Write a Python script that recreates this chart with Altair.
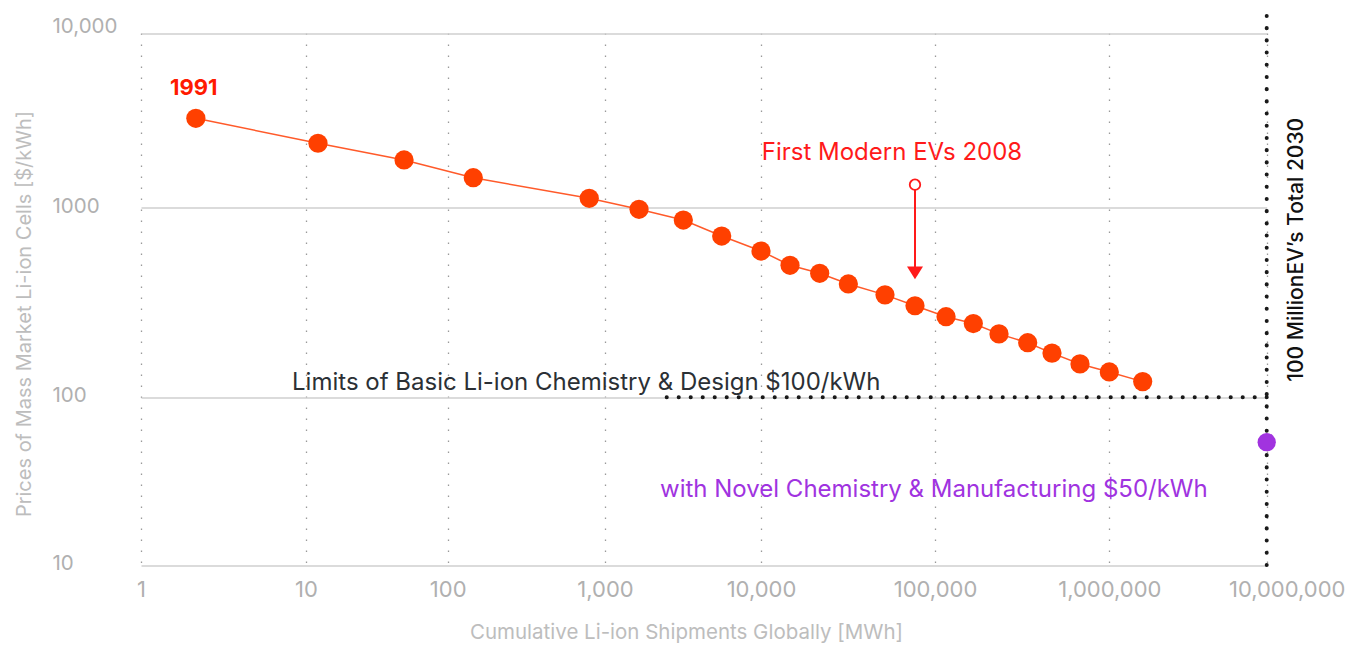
import altair as alt
import pandas as pd

# ---------------- data ----------------
shipments_mwh = [2.15, 12.15, 49.2, 145.4, 794, 1652, 3177, 5598, 10000, 14680,
                 21740, 31770, 51590, 76740, 115700, 165900, 232900, 340300,
                 469000, 679000, 1000000, 1630000]
price_kwh = [3260, 2344, 1879, 1486, 1132, 981, 861, 709, 591, 497, 451, 396,
             347, 304, 266, 245, 216, 194, 171, 150, 136, 121]

x_ticks = [1, 10, 100, 1000, 10000, 100000, 1000000, 10000000]
x_tick_labels = ["1", "10", "100", "1,000", "10,000", "100,000", "1,000,000", "10,000,000"]
y_ticks = [10, 100, 1000, 10000]
y_tick_labels = ["10", "100", "1000", "10,000"]

novel_x = [10000000]
novel_y = [54]

limit_x = [2485]
limit_x2 = [10000000]
limit_y = [100]

target_x = [10000000]
target_y = [10]
target_y2 = [12800]

ev_x = [76740]
ev_circle_y = [1355]
ev_line_end_y = [470]
ev_head_y = [453]

# text annotations: (label, x, y)
label_1991 = ("1991", 1.5, 4420)
label_ev = ("First Modern EVs 2008", 10100, 1870)
label_limit = ("Limits of Basic Li-ion Chemistry & Design $100/kWh", 8.23, 109)
label_novel = ("with Novel Chemistry & Manufacturing $50/kWh", 2253, 25.4)
label_target = ("100 MillionEV\u2019s Total 2030", 15500000, 600)

FONT = "Inter"

# ---------------- scales / axes ----------------
def lookup_expr(vals, labels):
    v = ",".join(str(a) for a in vals)
    l = ",".join("'" + s + "'" for s in labels)
    return "[" + l + "][indexof([" + v + "], datum.value)]"

x_scale = alt.Scale(type="log", domain=x_ticks,
                    range=[0, 165, 306.7, 464, 620, 794, 968.3, 1125.7], nice=False)
y_scale = alt.Scale(type="log", domain=y_ticks,
                    range=[531.5, 363.8, 174.2, 0], nice=False)

x_axis = alt.Axis(
    values=x_ticks, labelExpr=lookup_expr(x_ticks, x_tick_labels),
    title="Cumulative Li-ion Shipments Globally [MWh]",
    grid=True, gridDash=[1.5, 9.5], gridColor="#9a9a9a", gridWidth=1.3,
    domain=False, ticks=False, tickSize=0,
    labelFont=FONT, labelFontSize=22, labelColor="#b0b0b0", labelPadding=15,
    labelOffset=alt.ConditionalAxisNumber(
        condition={"test": "datum.value >= 10000000", "value": 20}, value=0),
    labelFlush=False, labelOverlap=False,
    titleFont=FONT, titleFontSize=20.5, titleFontWeight="normal", titleColor="#bdbdbd",
    titleX=545, titleY=74, titleAlign="center", titleBaseline="alphabetic",
)
y_axis = alt.Axis(
    values=y_ticks, labelExpr=lookup_expr(y_ticks, y_tick_labels),
    title="Prices of Mass Market Li-ion Cells [$/kWh]",
    grid=True, gridColor="#cfcfcf", gridWidth=1.5,
    domain=False, ticks=False, tickSize=0,
    labelFont=FONT, labelFontSize=20.5, labelColor="#b0b0b0",
    labelAlign="left", labelBaseline="middle", labelPadding=89,
    labelOffset=alt.ConditionalAxisNumber(
        condition={"test": "datum.value >= 10000", "value": -7}, value=-1.5),
    labelFlush=False, labelOverlap=False,
    titleFont=FONT, titleFontSize=20, titleFontWeight="normal", titleColor="#bdbdbd",
    titleX=-111, titleY=280, titleAngle=270, titleAlign="center", titleBaseline="alphabetic",
)

X = alt.X("x:Q", scale=x_scale, axis=x_axis)
Y = alt.Y("y:Q", scale=y_scale, axis=y_axis)

# ---------------- layers ----------------
main_df = pd.DataFrame({"x": shipments_mwh, "y": price_kwh})

line = alt.Chart(main_df).mark_line(color="#ff5a2a", strokeWidth=1.5).encode(x=X, y=Y)
points = alt.Chart(main_df).mark_circle(size=370, color="#ff4000", opacity=1).encode(x=X, y=Y)

limit_df = pd.DataFrame({"x": limit_x, "x2": limit_x2, "y": limit_y})
limit_rule = alt.Chart(limit_df).mark_rule(
    color="#1a1a1a", strokeWidth=4, strokeDash=[0.1, 11.9], strokeCap="round"
).encode(x=X, x2="x2:Q", y=Y)

target_df = pd.DataFrame({"x": target_x, "y": target_y, "y2": target_y2})
target_rule = alt.Chart(target_df).mark_rule(
    color="#1a1a1a", strokeWidth=4, strokeDash=[0.1, 12.1], strokeCap="round", clip=False
).encode(x=X, y=Y, y2="y2:Q")

novel_df = pd.DataFrame({"x": novel_x, "y": novel_y})
novel_pt = alt.Chart(novel_df).mark_circle(size=335, color="#a133df", opacity=1).encode(x=X, y=Y)

ev_line_df = pd.DataFrame({"x": ev_x, "y": ev_circle_y, "y2": ev_line_end_y})
ev_line = alt.Chart(ev_line_df).mark_rule(color="#ff1a1a", strokeWidth=2).encode(x=X, y=Y, y2="y2:Q")

ev_head_df = pd.DataFrame({"x": ev_x, "y": ev_head_y})
ev_head = alt.Chart(ev_head_df).mark_point(
    shape="M-1,-0.8L1,-0.8L0,0.8Z", size=256, filled=True, color="#ff1a1a", opacity=1
).encode(x=X, y=Y)

ev_circ_df = pd.DataFrame({"x": ev_x, "y": ev_circle_y})
ev_circ = alt.Chart(ev_circ_df).mark_point(
    shape="circle", size=110, filled=True, fill="white", stroke="#ff1a1a",
    strokeWidth=1.8, opacity=1
).encode(x=X, y=Y)


def text_layer(item, **style):
    df = pd.DataFrame({"t": [item[0]], "x": [item[1]], "y": [item[2]]})
    return alt.Chart(df).mark_text(font=FONT, **style).encode(x=X, y=Y, text="t:N")


t1991 = text_layer(label_1991, fontSize=22, fontWeight="bold", color="#ff1a00",
                   align="left", baseline="alphabetic")
tev = text_layer(label_ev, fontSize=24, color="#ff1a1a", align="left", baseline="alphabetic")
tlimit = text_layer(label_limit, fontSize=24, color="#2b3035", align="left", baseline="alphabetic")
tnovel = text_layer(label_novel, fontSize=24, color="#a033e0", align="left", baseline="alphabetic")
ttarget = text_layer(label_target, fontSize=21, fontWeight=500, color="#111111", angle=270,
                     align="center", baseline="middle")

chart = alt.layer(
    line, limit_rule, target_rule, points, novel_pt, ev_line, ev_head, ev_circ,
    t1991, tev, tlimit, tnovel, ttarget
).properties(
    width=1126, height=531,
    autosize=alt.AutoSizeParams(type="none"),
    padding={"left": 133, "top": 25.5, "right": 83, "bottom": 81},
    background="white",
).configure_view(stroke=None)

chart.save("out.html", embed_options={"renderer": "svg", "actions": False})
